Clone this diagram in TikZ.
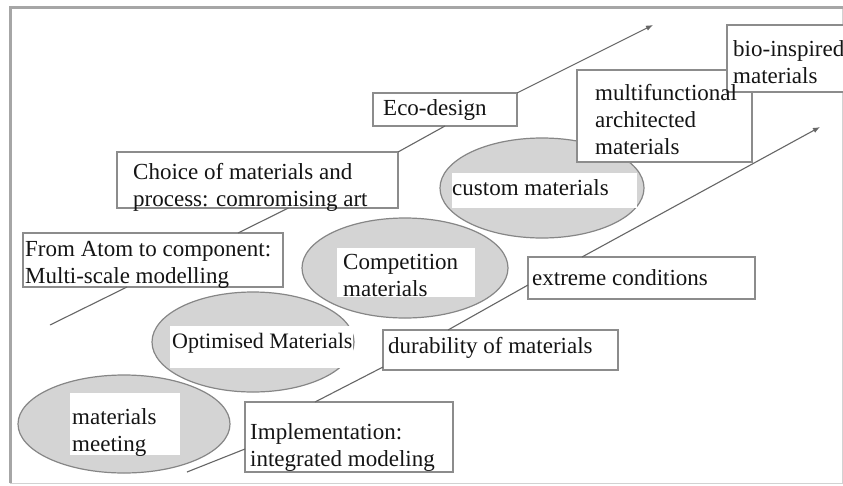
\documentclass[tikz,border=0pt]{standalone}
\usepackage{fontspec}
\setmainfont{Liberation Serif}
\usetikzlibrary{arrows.meta,calc,shapes.geometric}
\tikzset{
  box/.style={draw=gray!90, line width=1.1pt, fill=white, inner sep=0pt, outer sep=0pt, anchor=north west},
  txt/.style={anchor=west, align=left, inner sep=0pt, text=black!92, font=\fontsize{23}{27}\selectfont},
  oval/.style={ellipse, draw=gray!95, line width=1.2pt, fill=gray!34, inner sep=0pt},
  conn/.style={draw=black!60, line width=1.1pt},
  arr/.style={conn, -{Latex[length=7pt,width=5.5pt]}},
  whitebg/.style={fill=white},
}
\begin{document}
\begin{tikzpicture}[x=1pt,y=-1pt]
\useasboundingbox (0,0) rectangle (843,485);
\fill[white] (0,0) rectangle (843,485);
% frame
\draw[gray!35, line width=0.8pt] (10,483) -- (842,483) -- (842,7);
\draw[gray!70, line width=3pt] (10,483) -- (10,7) -- (843,7);

% ellipses
\node[oval, minimum width=212pt, minimum height=98pt] (mm) at (124,424) {};
\node[oval, minimum width=202pt, minimum height=100pt] (opt) at (253,342) {};
\node[oval, minimum width=206pt, minimum height=100pt] (comp) at (405,268) {};
\node[oval, minimum width=204pt, minimum height=100pt] (cust) at (542,188) {};
\fill[whitebg] (70,393) rectangle (180,455);
\fill[whitebg] (170,326) rectangle (353,368);
\fill[whitebg] (337,248) rectangle (475,297);
\fill[whitebg] (452,173) rectangle (637,208);
\node[txt] (mm-t) at (72,432) {materials\\meeting};
\node[txt] (opt-t) at (172,343) {\fontsize{22}{26}\selectfont Optimised Materials};
\node[txt] (comp-t) at (343,275) {\fontsize{23}{29}\selectfont Competition\\materials};
\node[txt] (cust-t) at (452,188) {custom materials};

% boxes
\node[box, minimum width=144pt, minimum height=33pt] (eco) at (373,93) {};
\node[box, minimum width=175pt, minimum height=92pt] (mult) at (577,70) {};
\node[box, minimum width=140pt, minimum height=67pt] (bio) at (727,25) {};
\node[box, minimum width=281pt, minimum height=56pt] (choice) at (117,152) {};
\node[box, minimum width=260pt, minimum height=54pt] (atom) at (23,233) {};
\node[box, minimum width=227pt, minimum height=42pt] (ext) at (528,257) {};
\node[box, minimum width=235pt, minimum height=40pt] (dur) at (383,330) {};
\node[box, minimum width=208pt, minimum height=70pt] (impl) at (245,402) {};

\node[txt] (eco-t) at (383,110) {Eco-design};
\node[txt] (mult-t) at (595,120) {\fontsize{23}{27.5}\selectfont multifunctional\\architected\\materials};
\node[txt] (bio-t) at (733,62) {bio-inspired\\materials};
\node[txt] (choice-t) at (133,187) {Choice of materials and\\process: comromising art};
\node[txt] (atom-t) at (25,265) {\fontsize{23}{25}\selectfont From Atom to component:\\Multi-scale modelling};
\node[txt] (ext-t) at (532,278) {extreme conditions};
\node[txt] (dur-t) at (388,348) {durability of materials};
\node[txt] (impl-t) at (250,447) {\fontsize{23}{28}\selectfont Implementation:\\integrated modeling};

% connectors
\coordinate (top1) at (653,25);
\coordinate (top2) at (820,127);
\coordinate (low1) at (50,325);
\coordinate (low2) at (187,472);
\draw[conn] (choice.north east) -- (eco.south);
\draw[arr] (eco.north east) -- (top1);
\draw[conn] ([xshift=-45pt]atom.north east) -- ([xshift=31pt]choice.south);
\draw[conn] ([xshift=-26pt]atom.south) -- (low1);
\draw[conn] ([xshift=-34pt]impl.north) -- ([yshift=3pt]dur.south west);
\draw[conn] ([yshift=-12pt]impl.west) -- (low2);
\draw[conn] ([xshift=65pt]dur.north west) -- ([yshift=-7pt]ext.west);
\draw[arr] ([xshift=54pt]ext.north west) -- (top2);
\end{tikzpicture}
\end{document}
